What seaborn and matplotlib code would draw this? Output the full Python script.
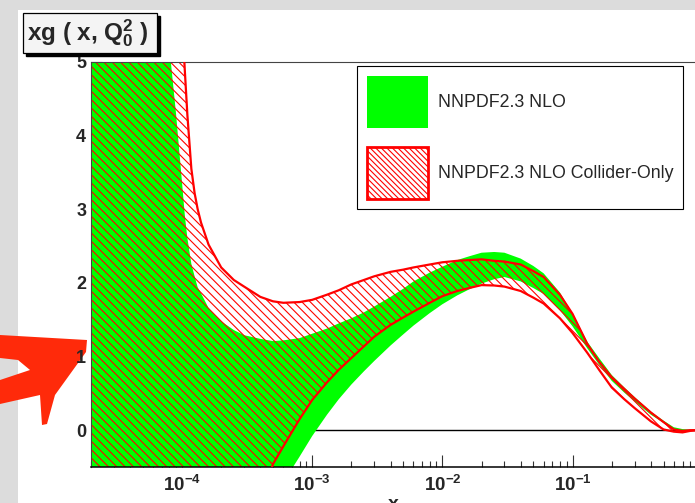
import numpy as np
import pandas as pd
import matplotlib
matplotlib.use("Agg")
import matplotlib.pyplot as plt
import seaborn as sns
from matplotlib.patches import Rectangle, Patch, Polygon
from matplotlib.ticker import LogLocator, FixedLocator, FuncFormatter, NullFormatter

# ---------------- data ----------------
x_vals = [2e-5, 5e-5, 8e-5, 9e-5, 1e-4, 1.05e-4, 1.1e-4, 1.18e-4, 1.25e-4, 1.32e-4,
          1.4e-4, 1.6e-4, 2e-4, 2.5e-4, 3e-4, 4e-4, 5e-4, 6e-4, 8e-4, 1e-3,
          1.3e-3, 1.6e-3, 2e-3, 2.5e-3, 3e-3, 4e-3, 5e-3, 6e-3, 8e-3, 1e-2,
          1.3e-2, 1.6e-2, 2e-2, 2.5e-2, 3e-2, 4e-2, 5e-2, 6e-2, 8e-2, 0.1,
          0.13, 0.16, 0.2, 0.25, 0.3, 0.4, 0.5, 0.6, 0.7, 0.8, 0.9, 1.0]

nlo_upper = [7, 7, 5.2, 4.30, 3.37, 2.93, 2.61, 2.26, 2.09, 1.94,
             1.86, 1.66, 1.48, 1.36, 1.29, 1.24, 1.21, 1.22, 1.25, 1.31,
             1.38, 1.45, 1.52, 1.60, 1.68, 1.81, 1.92, 2.02, 2.14, 2.22,
             2.31, 2.36, 2.41, 2.42, 2.41, 2.33, 2.23, 2.13, 1.87, 1.58,
             1.20, 0.98, 0.75, 0.58, 0.45, 0.25, 0.13, 0.04, 0.015, 0.005, 0.0, 0.0]

nlo_lower = [-1, -1, -1, -1, -1, -1, -1, -1, -1, -1,
             -1, -1, -1, -1, -1, -1, -1, -0.71, -0.36, -0.08,
             0.21, 0.42, 0.62, 0.80, 0.94, 1.15, 1.30, 1.42, 1.59, 1.71,
             1.83, 1.91, 1.99, 2.05, 2.08, 2.02, 1.93, 1.85, 1.63, 1.41,
             1.11, 0.89, 0.67, 0.51, 0.39, 0.21, 0.10, 0.01, -0.01, 0.0, 0.0, 0.0]

col_upper = [7, 7, 7, 7, 5.6, 4.9, 4.28, 3.55, 3.22, 3.0,
             2.82, 2.52, 2.21, 2.04, 1.95, 1.81, 1.75, 1.73, 1.74, 1.77,
             1.84, 1.90, 1.98, 2.04, 2.09, 2.15, 2.18, 2.21, 2.25, 2.28,
             2.30, 2.31, 2.32, 2.30, 2.29, 2.25, 2.16, 2.08, 1.84, 1.58,
             1.17, 0.93, 0.72, 0.56, 0.43, 0.24, 0.11, 0.01, -0.01, 0.0, 0.0, 0.0]

col_lower = [-1, -1, -1, -1, -1, -1, -1, -1, -1, -1,
             -1, -1, -1, -1, -1, -1, -0.46, -0.22, 0.15, 0.41,
             0.65, 0.82, 0.98, 1.14, 1.27, 1.43, 1.53, 1.61, 1.73, 1.82,
             1.89, 1.93, 1.97, 1.965, 1.95, 1.89, 1.80, 1.72, 1.52, 1.32,
             1.05, 0.82, 0.58, 0.42, 0.30, 0.12, 0.01, -0.02, -0.03, -0.01, 0.0, 0.0]

series_labels = ["NNPDF2.3 NLO", "NNPDF2.3 NLO Collider-Only"]
y_ticks = [0, 1, 2, 3, 4, 5]
x_major_ticks = [1e-4, 1e-3, 1e-2, 1e-1]
title_text = r"xg ( x, $\mathbf{Q}^{\mathbf{2}}_{\mathbf{0}}$ )"
x_label = "x"

# ---------------- style ----------------
sns.set_theme(style="white")
plt.rcParams["font.family"] = ["Liberation Sans", "DejaVu Sans"]
plt.rcParams["mathtext.fontset"] = "custom"
plt.rcParams["mathtext.rm"] = "Liberation Sans:bold"
plt.rcParams["mathtext.bf"] = "Liberation Sans:bold"
plt.rcParams["mathtext.it"] = "Liberation Sans:bold"
plt.rcParams["mathtext.default"] = "bf"
plt.rcParams["hatch.linewidth"] = 0.8

W, H = 695, 503
fig = plt.figure(figsize=(W / 100, H / 100), dpi=100, facecolor="#dcdcdc")


def fx(px):
    return px / W


def fy(py):
    return 1 - py / H


# white page area (screenshot has grey margin on the left and top)
fig.add_artist(Rectangle((fx(18), 0), 1 - fx(18), fy(10), transform=fig.transFigure,
                         facecolor="white", edgecolor="none", zorder=-5))

ax = fig.add_axes([fx(91), fy(467), (702.7 - 91) / W, (467 - 62) / H])
ax.set_facecolor("white")
ax.set_xscale("log")

df_bands = pd.DataFrame({"x": x_vals, "nlo_lo": nlo_lower, "nlo_hi": nlo_upper,
                         "col_lo": col_lower, "col_hi": col_upper})

# zero line (under the bands)
ax.axhline(0, color="black", lw=1.0, zorder=0.6)

# green band
ax.fill_between(df_bands["x"], df_bands["nlo_lo"], df_bands["nlo_hi"],
                color="#00ff00", lw=0, zorder=1)
# red hatched band
ax.fill_between(df_bands["x"], df_bands["col_lo"], df_bands["col_hi"],
                facecolor="none", edgecolor="red", hatch="\\\\\\\\", lw=0, zorder=2)

# red boundary lines via seaborn
n = len(x_vals)
df_lines = pd.DataFrame({"x": x_vals * 2,
                         "y": col_upper + col_lower,
                         "edge": ["upper"] * n + ["lower"] * n})
sns.lineplot(data=df_lines, x="x", y="y", units="edge", estimator=None,
             color="red", lw=1.6, ax=ax, legend=False, zorder=3)

ax.set_xlim(2e-5, 1)
ax.set_ylim(-0.5, 5)
ax.set_xlabel("")
ax.set_ylabel("")
ax.set_axisbelow(True)

# ticks
ax.xaxis.set_major_locator(FixedLocator(x_major_ticks))
ax.xaxis.set_minor_locator(LogLocator(base=10, subs=np.arange(2, 10), numticks=20))
ax.xaxis.set_major_formatter(FuncFormatter(
    lambda v, p: r"$\mathbf{10^{%d}}$" % int(round(np.log10(v)))))
ax.xaxis.set_minor_formatter(NullFormatter())
ax.tick_params(axis="x", which="major", direction="in", length=8.6, width=0.8,
               color="#333333", pad=5.5, labelsize=13.5, bottom=True, top=False)
ax.tick_params(axis="x", which="minor", direction="in", length=4.3, width=0.8,
               color="#333333", bottom=True, top=False)
ax.set_yticks(y_ticks)
ax.set_yticklabels([str(t) for t in y_ticks], fontweight="bold")
ax.tick_params(axis="y", which="major", direction="in", length=8, width=0.8,
               pad=3.5, labelsize=13, left=True, right=False)

for s in ["top", "left"]:
    ax.spines[s].set_color("#444444")
    ax.spines[s].set_linewidth(0.8)
ax.spines["bottom"].set_color("black")
ax.spines["bottom"].set_linewidth(1.1)
ax.spines["right"].set_visible(False)
for s in ax.spines.values():
    s.set_zorder(2.5)

# legend
handles = [Patch(facecolor="#00ff00", edgecolor="none", label=series_labels[0]),
           Patch(facecolor="white", edgecolor="red", hatch="\\\\\\\\\\\\", linewidth=2,
                 label=series_labels[1])]
leg = ax.legend(handles=handles, loc="upper left",
                bbox_to_anchor=(fx(357), fy(66)), bbox_transform=fig.transFigure,
                frameon=True, fancybox=False, shadow=False, framealpha=1,
                edgecolor="black", borderpad=0.56, handlelength=3.43,
                handleheight=4.12, labelspacing=1.07, handletextpad=0.56,
                borderaxespad=0, prop={"family": "Liberation Sans", "size": 12.8})
leg.get_frame().set_linewidth(0.8)
leg.set_zorder(6)

# title box with shadow
bw, bh = (156.7 - 22.7) / W, (53.3 - 12.7) / H
fig.add_artist(Rectangle((fx(25.7), fy(56.3)), bw, bh, transform=fig.transFigure,
                         facecolor="black", edgecolor="black", zorder=7))
fig.add_artist(Rectangle((fx(22.7), fy(53.3)), bw, bh, transform=fig.transFigure,
                         facecolor="#f4f4f4", edgecolor="black", lw=0.9, zorder=8))
fig.text(fx(27), fy(40), title_text, fontsize=17.5, fontweight="bold",
         ha="left", va="baseline", zorder=9)

# x axis label (partly cut off at the bottom of the screenshot)
fig.text(fx(393), fy(509), x_label, fontsize=14, fontweight="bold",
         ha="center", va="baseline")

# red hand-drawn arrow decoration on the slide (behind the tick labels)
arrow_px = [(87, 340), (0, 335), (0, 358), (18, 360), (30, 370), (0, 380),
            (0, 404), (40, 395), (42, 425), (47, 424), (55, 395), (86, 352)]
fig.add_artist(Polygon([(fx(a), fy(b)) for a, b in arrow_px], closed=True,
                       transform=fig.transFigure, facecolor="#ff2a0a",
                       edgecolor="none", zorder=-1))

fig.savefig("out.png", dpi=100, facecolor=fig.get_facecolor())
